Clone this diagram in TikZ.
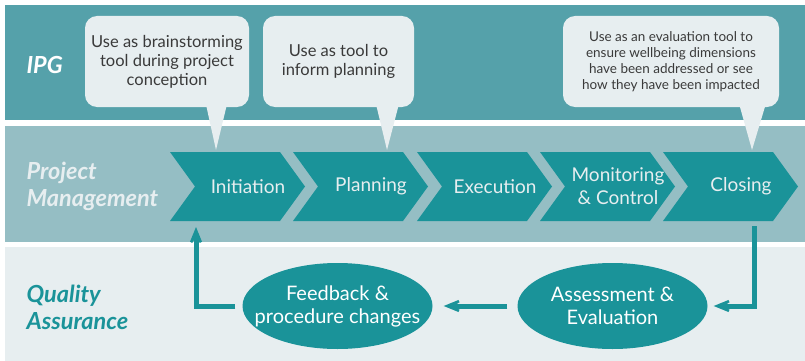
\documentclass[tikz,border=0pt]{standalone}
\usepackage{fontspec}
\setmainfont{Lato}
\usetikzlibrary{arrows.meta,shapes.geometric,calc}

\definecolor{ipgband}{HTML}{55A1AA}
\definecolor{pmband}{HTML}{95BEC4}
\definecolor{qaband}{HTML}{E7EEF0}
\definecolor{teal}{HTML}{1A9399}
\definecolor{notegray}{HTML}{3A3A3A}

\tikzset{
	note/.style={fill=qaband, rounded corners=12pt, text=notegray, align=center, inner sep=0pt, font=\fontsize{16.5}{19}\selectfont},
	chevtext/.style={text=qaband, align=center, font=\fontsize{19}{23}\selectfont},
	head/.style={anchor=west, align=left, font=\fontsize{23.5}{27}\selectfont\bfseries\itshape},
	loop/.style={ellipse, fill=teal, text=white, align=center, minimum width=190pt, minimum height=86pt, inner xsep=-20pt, inner ysep=0pt, font=\fontsize{20}{23}\selectfont},
	flow/.style={draw=teal, line width=5pt, -{Stealth[length=27pt,width=22pt,inset=17pt]}}
}

\begin{document}
\begin{tikzpicture}[x=1pt,y=-1pt]
	\useasboundingbox (0,0) rectangle (805,361);
	
	% bands
	\fill[ipgband] (5,5) rectangle (805,120);
	\fill[pmband] (5,126) rectangle (805,242);
	\fill[qaband] (5,247) rectangle (805,361);
	
	\node[head, text=white] (ipg) at (23,65) {IPG};
	\node[head, text=qaband] (pm) at (23,186) {Project\\Management};
	\node[head, text=teal] (qa) at (23,307) {Quality\\Assurance};
	
	% chevrons
	\foreach \x/\name/\txt in {170/ini/Initiation, 293/pla/Planning, 417/exe/Execution, 540/mon/{Monitoring\\\& Control}, 663/clo/Closing} {
		\fill[teal] (\x,152) -- ++(110,0) -- ++(25,34.5) -- ++(-25,34.5) -- ++(-110,0) -- ++(25,-34.5) -- cycle;
		\node[chevtext] (\name) at (\x+78,186.5) {\txt};
	}
	
	% callouts
	\node[note, minimum width=164pt, minimum height=91pt] (c1) at (167,61.5) {Use as brainstorming\\tool during project\\conception};
	\fill[qaband] (205,100) -- (228,100) -- (216,150) -- cycle;
	\node[note, minimum width=151pt, minimum height=91pt] (c2) at (338.5,61.5) {Use as tool to\\inform planning};
	\fill[qaband] (375,100) -- (400,100) -- (387,150) -- cycle;
	\node[note, minimum width=216pt, minimum height=91pt, font=\fontsize{13.5}{16}\selectfont] (c3) at (671,61.5) {Use as an evaluation tool to\\ensure wellbeing dimensions\\have been addressed or see\\how they have been impacted};
	\fill[qaband] (738,100) -- (767,100) -- (752,150) -- cycle;
	
	% quality loop
	\node[loop] (ass) at (612.5,306) {Assessment \&\\Evaluation};
	\node[loop] (fb) at (337.5,306) {Feedback \&\\procedure changes};
	
	\coordinate (clodown) at (754,226);
	\coordinate (iniup) at (196,227);
	
	\draw[flow, shorten >=6pt] (clodown) |- (ass.east);
	\draw[flow, shorten <=10pt, shorten >=11pt] (ass.west) -- (fb.east);
	\draw[flow, shorten <=7pt] (fb.west) -| (iniup);
\end{tikzpicture}
\end{document}
